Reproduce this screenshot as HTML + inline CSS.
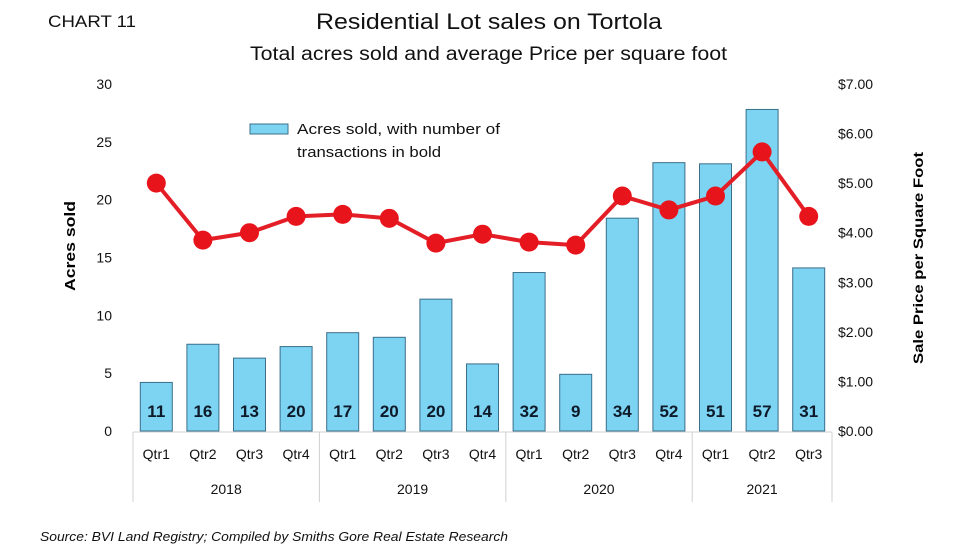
<!DOCTYPE html>
<html><head><meta charset="utf-8"><style>
body{margin:0;background:#fff;}
svg{display:block;font-family:"Liberation Sans",sans-serif;}
</style></head><body>
<svg id="chart" width="980" height="551" viewBox="0 0 980 551">
<text x="48" y="27" font-size="17" fill="#111" textLength="88" lengthAdjust="spacingAndGlyphs">CHART 11</text>
<text x="316" y="29" font-size="22" fill="#111" textLength="346" lengthAdjust="spacingAndGlyphs">Residential Lot sales on Tortola</text>
<text x="250" y="60" font-size="19" fill="#111" textLength="477" lengthAdjust="spacingAndGlyphs">Total acres sold and average Price per square foot</text>
<text transform="translate(75,246) rotate(-90)" font-size="15" font-weight="bold" text-anchor="middle" textLength="90" lengthAdjust="spacingAndGlyphs">Acres sold</text>
<text transform="translate(923,258) rotate(-90)" font-size="14" font-weight="bold" text-anchor="middle" textLength="212" lengthAdjust="spacingAndGlyphs">Sale Price per Square Foot</text>
<rect x="250" y="124" width="38" height="10" fill="#7dd3f2" stroke="#3b6f8a" stroke-width="1"/>
<text x="297" y="134" font-size="15" fill="#111" textLength="203" lengthAdjust="spacingAndGlyphs">Acres sold, with number of</text>
<text x="297" y="157" font-size="15" fill="#111" textLength="144" lengthAdjust="spacingAndGlyphs">transactions in bold</text>
<text x="40" y="541" font-size="13" font-style="italic" fill="#111" textLength="468" lengthAdjust="spacingAndGlyphs">Source: BVI Land Registry; Compiled by Smiths Gore Real Estate Research</text>
<g id="plot"></g>
</svg>
<script>
const categories=["Qtr1","Qtr2","Qtr3","Qtr4","Qtr1","Qtr2","Qtr3","Qtr4","Qtr1","Qtr2","Qtr3","Qtr4","Qtr1","Qtr2","Qtr3"];
const years=["2018","2019","2020","2021"];
const yearCounts=[4,4,4,3];
const acres=[4.2,7.5,6.3,7.3,8.5,8.1,11.4,5.8,13.7,4.9,18.4,23.2,23.1,27.8,14.1];
const transactions=[11,16,13,20,17,20,20,14,32,9,34,52,51,57,31];
const prices=[5.0,3.85,4.0,4.33,4.37,4.29,3.79,3.97,3.81,3.75,4.74,4.46,4.74,5.63,4.33];
const leftTicks=[0,5,10,15,20,25,30];
const rightTicks=[0,1,2,3,4,5,6,7];
const NS="http://www.w3.org/2000/svg";
const g=document.getElementById('plot');
const L=133,R=832,Y0=431,Y1=84;
const bw=(R-L)/categories.length;
const yL=v=>Y0-(v/30)*(Y0-Y1);
const yR=v=>Y0-(v/7)*(Y0-Y1);
const xC=i=>L+bw*(i+0.5);
function mk(t,a){const e=document.createElementNS(NS,t);for(const k in a)e.setAttribute(k,a[k]);g.appendChild(e);return e;}
leftTicks.forEach(v=>{const e=mk('text',{x:112,y:yL(v)+5,'font-size':14,'text-anchor':'end',fill:'#111'});e.textContent=v;

});
rightTicks.forEach(v=>{const e=mk('text',{x:838,y:yR(v)+5,'font-size':14,fill:'#111'});e.textContent='$'+v.toFixed(2);

});
acres.forEach((v,i)=>{const r=mk('rect',{x:xC(i)-16,y:yL(v),width:32,height:Y0-yL(v),fill:'#7dd3f2',stroke:'#3b6f8a','stroke-width':1});


const t=mk('text',{x:xC(i),y:417,'font-size':17,'font-weight':'bold','text-anchor':'middle',fill:'#0d1a2a'});t.textContent=transactions[i];


const c=mk('text',{x:xC(i),y:459,'font-size':14,'text-anchor':'middle',fill:'#111'});c.textContent=categories[i];

});
const ax=mk('line',{x1:L,x2:R,y1:Y0+1,y2:Y0+1,stroke:'#d0d0d0','stroke-width':1});


let s=0;const bounds=[0];
yearCounts.forEach((n,k)=>{const x0=L+s*bw;s+=n;const x1=L+s*bw;bounds.push(s);
const t=mk('text',{x:(x0+x1)/2,y:494,'font-size':14,'text-anchor':'middle',fill:'#111'});t.textContent=years[k];

});
bounds.forEach(b=>{const l=mk('line',{x1:L+b*bw,x2:L+b*bw,y1:Y0+1,y2:502,stroke:'#d0d0d0','stroke-width':1});

});
const p=mk('polyline',{points:prices.map((v,i)=>xC(i)+','+yR(v)).join(' '),fill:'none',stroke:'#e41e26','stroke-width':4,'stroke-linejoin':'round'});


prices.forEach((v,i)=>{const c=mk('circle',{cx:xC(i),cy:yR(v),r:9.5,fill:'#e8141c'});

});
</script>
</body></html>
